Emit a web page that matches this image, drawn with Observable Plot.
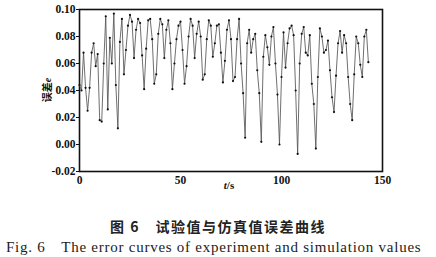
<!DOCTYPE html>
<html>
<head>
<meta charset="utf-8">
<script src="https://cdn.jsdelivr.net/npm/d3@7"></script>
<script src="https://cdn.jsdelivr.net/npm/@observablehq/plot@0.6"></script>
<style>
  html, body { margin: 0; padding: 0; background: #fff; }
  #wrap { position: relative; width: 436px; height: 257px; overflow: hidden; }
  .cap1 { position: absolute; left: 0; width: 436px; top: 219px; line-height: 14px; text-align: center;
          font-family: "Noto Sans CJK SC", sans-serif; font-size: 14px; font-weight: 700; letter-spacing: 1.5px; color: #222; }
  .cap2 { position: absolute; left: 6px; top: 240px; line-height: 15px; white-space: nowrap; letter-spacing: 0.75px;
          font-family: "Liberation Serif", "DejaVu Serif", serif; font-size: 15px; color: #222; }
</style>
</head>
<body>
<div id="wrap"></div>
<script>
// time (s) and error values
const times = d3.range(0, 144);
const errors = [
  0.044, 0.040, 0.068, 0.042, 0.025, 0.042, 0.068, 0.075, 0.058, 0.067,
  0.018, 0.017, 0.060, 0.095, 0.026, 0.079, 0.060, 0.097, 0.044, 0.012,
  0.076, 0.093, 0.052, 0.070, 0.088, 0.096, 0.091, 0.064, 0.085, 0.093,
  0.090, 0.066, 0.041, 0.071, 0.092, 0.093, 0.078, 0.045, 0.052, 0.082,
  0.093, 0.089, 0.064, 0.085, 0.092, 0.075, 0.041, 0.060, 0.078, 0.088,
  0.091, 0.070, 0.045, 0.058, 0.080, 0.093, 0.088, 0.064, 0.082, 0.091,
  0.080, 0.048, 0.052, 0.078, 0.092, 0.088, 0.065, 0.075, 0.088, 0.089,
  0.068, 0.046, 0.062, 0.085, 0.092, 0.078, 0.047, 0.050, 0.078, 0.093,
  0.060, 0.038, 0.005, 0.075, 0.085, 0.068, 0.078, 0.082, 0.055, 0.038,
  0.002, 0.065, 0.081, 0.072, 0.059, 0.080, 0.087, 0.060, 0.037, 0.000,
  0.050, 0.083, 0.057, 0.075, 0.086, 0.088, 0.081, 0.040, -0.007, 0.060,
  0.082, 0.087, 0.068, 0.066, 0.081, 0.045, 0.030, -0.003, 0.050, 0.086,
  0.080, 0.068, 0.070, 0.077, 0.055, 0.035, 0.024, 0.051, 0.075, 0.084,
  0.068, 0.081, 0.075, 0.050, 0.030, 0.018, 0.052, 0.080, 0.075, 0.059,
  0.050, 0.080, 0.085, 0.061
];
const xTicks = [0, 50, 100, 150];
const yTicks = [-0.02, 0.00, 0.02, 0.04, 0.06, 0.08, 0.10];

const data = times.map((t, i) => ({t, e: errors[i]}));

const chart = Plot.plot({
  width: 436,
  height: 195,
  marginLeft: 79,
  marginRight: 54,
  marginTop: 9,
  marginBottom: 24,
  style: {fontFamily: "'Liberation Serif', serif", fontSize: "11.5px", fontWeight: 700, color: "#111", background: "#fff"},
  x: {domain: [0, 150], ticks: xTicks, tickSize: 0, tickPadding: 4, label: null},
  y: {domain: [-0.02, 0.10], ticks: yTicks, tickSize: 3, tickPadding: 1, tickFormat: d => d.toFixed(2), label: null},
  marks: [
    Plot.frame({stroke: "#111", strokeWidth: 1.6}),
    Plot.line(data, {x: "t", y: "e", stroke: "#555", strokeWidth: 0.85}),
    Plot.dot(data, {x: "t", y: "e", r: 1.1, fill: "#111", stroke: "none"})
  ]
});

const wrap = document.getElementById("wrap");
wrap.appendChild(chart);

const svg = d3.select(chart);
// x label: t/s
const xl = svg.append("text")
  .attr("x", 229).attr("y", 189)
  .attr("text-anchor", "middle")
  .style("font-family", "'Liberation Serif', serif").style("font-size", "11px").style("font-weight", 700);
xl.append("tspan").style("font-style", "italic").text("t");
xl.append("tspan").text("/s");
// y label: 误差e
const yl = svg.append("text")
  .attr("transform", "translate(51,90) rotate(-90)")
  .attr("text-anchor", "middle")
  .style("font-size", "10px").style("font-weight", 700);
yl.append("tspan").style("font-family", "'Noto Sans CJK SC', sans-serif").text("误差");
yl.append("tspan").style("font-family", "'Liberation Serif', serif").style("font-style", "italic").text("e");

const c1 = document.createElement("div");
c1.className = "cap1";
c1.textContent = "图 6\u2003试验值与仿真值误差曲线";
wrap.appendChild(c1);
const c2 = document.createElement("div");
c2.className = "cap2";
c2.textContent = "Fig. 6\u2003The error curves of experiment and simulation values";
wrap.appendChild(c2);
</script>
</body>
</html>
